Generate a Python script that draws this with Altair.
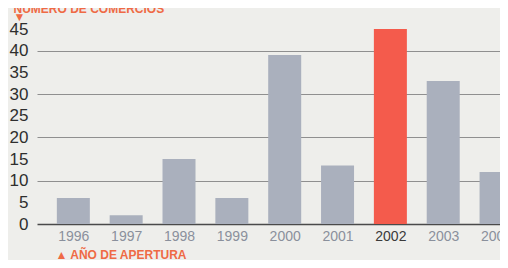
import altair as alt
import pandas as pd

years = [1996, 1997, 1998, 1999, 2000, 2001, 2002, 2003, 2004]
counts = [6, 2, 15, 6, 39, 13.5, 45, 33, 12]
highlight_year = 2002
y_ticks = [0, 5, 10, 15, 20, 25, 30, 35, 40, 45]
y_title = ["NÚMERO DE COMERCIOS", "▼"]
x_title = "▲ AÑO DE APERTURA"

df = pd.DataFrame({"year": years, "count": counts})

BG = "#eeeeeb"
GREY = "#aab0bd"
RED = "#f45b4c"
ORANGE = "#ef6a45"

bars = alt.Chart(df).mark_bar(size=33, clip=True).encode(
    x=alt.X(
        "year:Q",
        scale=alt.Scale(domain=[1995.407, 2003.98], nice=False, zero=False),
        axis=alt.Axis(
            values=years,
            format="d",
            grid=False,
            ticks=False,
            domain=True,
            domainColor="#4a4a4a",
            domainWidth=1.5,
            labelFont="Liberation Sans, Arial, sans-serif",
            labelFontSize=14,
            labelColor=alt.expr("datum.value == 2002 ? '#3a3a3a' : '#8a909c'"),
            labelPadding=5,
            labelBound=False,
            labelFlush=False,
            labelOverlap=False,
            title=x_title,
            titleFont="Liberation Sans, Arial, sans-serif",
            titleFontSize=12,
            titleFontWeight="bold",
            titleColor=ORANGE,
            titleAnchor="start",
            titleAlign="left",
            titleBaseline="middle",
            titleX=18,
            titleY=30,
        ),
    ),
    y=alt.Y(
        "count:Q",
        scale=alt.Scale(domain=[0, 45], nice=False),
        axis=alt.Axis(
            values=y_ticks,
            grid=True,
            gridColor="#8f8f8f",
            gridWidth=1,
            gridOpacity=alt.expr("datum.value % 10 == 0 && datum.value > 0 ? 1 : 0"),
            ticks=False,
            domain=False,
            labelFont="Liberation Sans, Arial, sans-serif",
            labelFontSize=17,
            labelColor="#2e2e2e",
            labelPadding=9,
            title=y_title,
            titleFont="Liberation Sans, DejaVu Sans, sans-serif",
            titleFontSize=12,
            titleFontWeight="bold",
            titleColor=ORANGE,
            titleAngle=0,
            titleAlign="left",
            titleBaseline="alphabetic",
            titleLineHeight=8,
            titleX=-24,
            titleY=-17,
        ),
    ),
    color=alt.condition(alt.datum.year == highlight_year, alt.value(RED), alt.value(GREY)),
).properties(
    width=463,
    height=195,
    autosize=alt.AutoSizeParams(type="none"),
    padding={"left": 29, "top": 21, "right": 0, "bottom": 36},
    background=BG,
).configure_view(stroke=None)

chart = bars
chart.save("out.html", embed_options={"renderer": "svg", "actions": False})
